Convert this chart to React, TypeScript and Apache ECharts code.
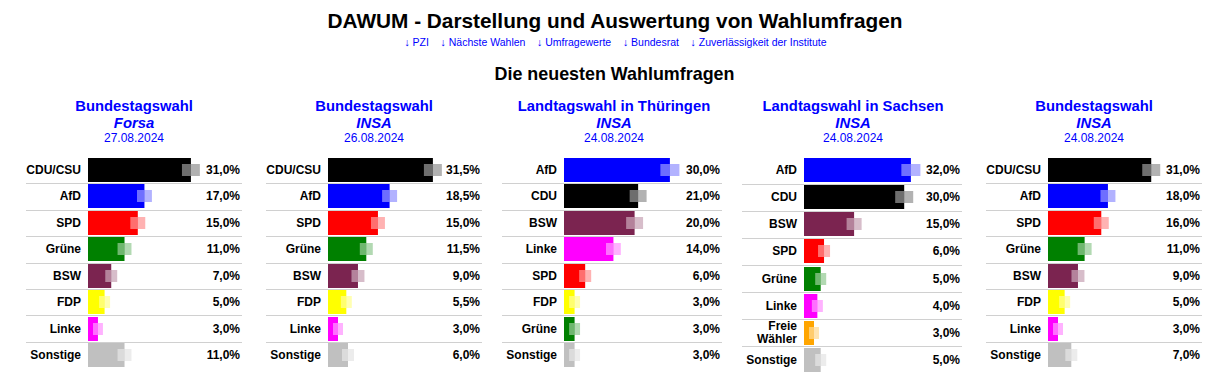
import React, { useEffect, useRef } from "react";
import * as echarts from "echarts";

// ---------- data ----------
const MAIN_TITLE = "DAWUM - Darstellung und Auswertung von Wahlumfragen";
const LINKS = ["PZI", "Nächste Wahlen", "Umfragewerte", "Bundesrat", "Zuverlässigkeit der Institute"];
const SUBTITLE = "Die neuesten Wahlumfragen";

const PANEL_ELECTIONS = ["Bundestagswahl", "Bundestagswahl", "Landtagswahl in Thüringen", "Landtagswahl in Sachsen", "Bundestagswahl"];
const PANEL_INSTITUTES = ["Forsa", "INSA", "INSA", "INSA", "INSA"];
const PANEL_DATES = ["27.08.2024", "26.08.2024", "24.08.2024", "24.08.2024", "24.08.2024"];

const P1_PARTIES = ["CDU/CSU", "AfD", "SPD", "Grüne", "BSW", "FDP", "Linke", "Sonstige"];
const P1_VALUES = [31.0, 17.0, 15.0, 11.0, 7.0, 5.0, 3.0, 11.0];
const P1_MARGINS = [2.7, 2.25, 2.25, 2.1, 1.8, 1.65, 1.5, 2.1];

const P2_PARTIES = ["CDU/CSU", "AfD", "SPD", "Grüne", "BSW", "FDP", "Linke", "Sonstige"];
const P2_VALUES = [31.5, 18.5, 15.0, 11.5, 9.0, 5.5, 3.0, 6.0];
const P2_MARGINS = [2.7, 2.25, 2.1, 1.95, 1.95, 1.65, 1.5, 1.8];

const P3_PARTIES = ["AfD", "CDU", "BSW", "Linke", "SPD", "FDP", "Grüne", "Sonstige"];
const P3_VALUES = [30.0, 21.0, 20.0, 14.0, 6.0, 3.0, 3.0, 3.0];
const P3_MARGINS = [2.7, 2.4, 2.4, 2.1, 1.7, 1.55, 1.55, 1.55];

const P4_PARTIES = ["AfD", "CDU", "BSW", "SPD", "Grüne", "Linke", "Freie Wähler", "Sonstige"];
const P4_VALUES = [32.0, 30.0, 15.0, 6.0, 5.0, 4.0, 3.0, 5.0];
const P4_MARGINS = [2.85, 2.7, 2.25, 1.8, 1.65, 1.65, 1.5, 1.65];

const P5_PARTIES = ["CDU/CSU", "AfD", "SPD", "Grüne", "BSW", "FDP", "Linke", "Sonstige"];
const P5_VALUES = [31.0, 18.0, 16.0, 11.0, 9.0, 5.0, 3.0, 7.0];
const P5_MARGINS = [2.7, 2.25, 2.25, 2.1, 1.95, 1.65, 1.5, 1.8];

// ---------- styles / layout ----------
const PARTY_COLORS: Record<string, string> = {
  "CDU/CSU": "#000000",
  CDU: "#000000",
  AfD: "#0000ff",
  SPD: "#ff0000",
  "Grüne": "#008000",
  BSW: "#7b2450",
  FDP: "#ffff00",
  Linke: "#ff00ff",
  "Freie Wähler": "#ffa500",
  Sonstige: "#c0c0c0",
};

const FONT = "'Liberation Sans', Arial, Helvetica, sans-serif";
const PANEL_CENTER = [134, 374, 614, 853, 1094];
const PANEL_BAR_START = [88, 328, 564, 804, 1048];
const PANEL_VALUE_RIGHT = [240, 480, 720, 960, 1200];
const PANEL_PX_PER_PCT = [3.32, 3.33, 3.53, 3.34, 3.33];
const GRID_TOP = 156.8;
const ROW_PITCH = 26.43;
const EXTRA_LINE_PX = 5;
const BAR_H = 24;
const BAND_H = 12;

const PANELS = [
  { parties: P1_PARTIES, values: P1_VALUES, margins: P1_MARGINS },
  { parties: P2_PARTIES, values: P2_VALUES, margins: P2_MARGINS },
  { parties: P3_PARTIES, values: P3_VALUES, margins: P3_MARGINS },
  { parties: P4_PARTIES, values: P4_VALUES, margins: P4_MARGINS },
  { parties: P5_PARTIES, values: P5_VALUES, margins: P5_MARGINS },
];

const labelOf = (name: string) => (name === "Freie Wähler" ? "Freie\nWähler" : name);
const fmt = (v: number) => v.toFixed(1).replace(".", ",") + "%";

function buildOption() {
  const grid: any[] = [];
  const xAxis: any[] = [];
  const yAxis: any[] = [];
  const series: any[] = [];
  const graphic: any[] = [];

  graphic.push({
    type: "text",
    x: 615,
    y: 20,
    style: { text: MAIN_TITLE, font: `bold 20.8px ${FONT}`, fill: "#000", align: "center", verticalAlign: "middle" },
  });
  graphic.push({
    type: "text",
    x: 615.5,
    y: 42,
    style: {
      text: LINKS.map((l) => "↓ " + l).join("\u00a0\u00a0\u00a0\u00a0"),
      font: `10.5px ${FONT}`,
      fill: "#0000ff",
      align: "center",
      verticalAlign: "middle",
    },
  });
  graphic.push({
    type: "text",
    x: 614.5,
    y: 74,
    style: { text: SUBTITLE, font: `bold 17.9px ${FONT}`, fill: "#000", align: "center", verticalAlign: "middle" },
  });

  PANELS.forEach((p, k) => {
    const cx = PANEL_CENTER[k];
    graphic.push({
      type: "text",
      x: cx,
      y: 105.5,
      style: { text: PANEL_ELECTIONS[k], font: `bold 14.8px ${FONT}`, fill: "#0000ff", align: "center", verticalAlign: "middle" },
    });
    graphic.push({
      type: "text",
      x: cx,
      y: 122.5,
      style: { text: PANEL_INSTITUTES[k], font: `italic bold 14.8px ${FONT}`, fill: "#0000ff", align: "center", verticalAlign: "middle" },
    });
    graphic.push({
      type: "text",
      x: cx,
      y: 137.5,
      style: { text: PANEL_DATES[k], font: `12px ${FONT}`, fill: "#0000ff", align: "center", verticalAlign: "middle" },
    });

    const extraLines = p.parties.filter((n) => labelOf(n).includes("\n")).length;
    const gridW = PANEL_VALUE_RIGHT[k] - PANEL_BAR_START[k];
    const n = p.parties.length;
    grid.push({
      left: PANEL_BAR_START[k],
      top: GRID_TOP,
      width: gridW,
      height: n * ROW_PITCH + extraLines * EXTRA_LINE_PX,
      containLabel: false,
    });
    xAxis.push({ type: "value", gridIndex: k, min: 0, max: gridW / PANEL_PX_PER_PCT[k], show: false });
    yAxis.push({
      type: "category",
      gridIndex: k,
      inverse: true,
      data: p.parties,
      axisLine: { show: false },
      axisTick: { show: false },
      splitLine: { show: false },
      axisLabel: {
        margin: 7,
        color: "#000",
        fontWeight: "bold",
        fontSize: 12,
        fontFamily: FONT,
        lineHeight: 13,
        interval: 0,
        formatter: (v: string) => labelOf(v),
      },
    });
    const colors = p.parties.map((nm) => PARTY_COLORS[nm] || "#999");
    series.push({
      type: "custom",
      xAxisIndex: k,
      yAxisIndex: k,
      encode: { x: 0, y: 1 },
      data: p.values.map((v, i) => [v, i, p.margins[i]]),
      renderItem: (params: any, api: any) => {
        const v = api.value(0);
        const i = api.value(1);
        const m = api.value(2);
        const s = api.coord([0, i]);
        const e = api.coord([v, i]);
        const lo = api.coord([v - m, i]);
        const hi = api.coord([v + m, i]);
        const band = api.size([0, 1])[1];
        const cs = params.coordSys;
        const cy = e[1];
        const top = Math.round(cy - BAR_H / 2);
        const btop = top + (BAR_H - BAND_H) / 2;
        const color = colors[params.dataIndex];
        const children: any[] = [];
        if (params.dataIndex < n - 1) {
          const yl = Math.round(cy + band / 2) + 0.5;
          children.push({
            type: "line",
            shape: { x1: cs.x - 62, y1: yl, x2: cs.x + cs.width + 2, y2: yl },
            style: { stroke: "#d0d0d0", lineWidth: 1 },
          });
        }
        children.push({
          type: "rect",
          shape: { x: s[0], y: top, width: e[0] - s[0], height: BAR_H },
          style: { fill: color },
        });
        children.push({
          type: "rect",
          shape: { x: lo[0], y: btop, width: e[0] - lo[0], height: BAND_H },
          style: { fill: "#ffffff", opacity: 0.43 },
        });
        children.push({
          type: "rect",
          shape: { x: e[0], y: btop, width: hi[0] - e[0], height: BAND_H },
          style: { fill: color, opacity: 0.3 },
        });
        children.push({
          type: "text",
          x: cs.x + cs.width,
          y: cy,
          style: {
            text: fmt(v),
            font: `bold 12px ${FONT}`,
            fill: "#000",
            align: "right",
            verticalAlign: "middle",
          },
        });
        return { type: "group", children };
      },
    });
  });

  return {
    animation: false,
    backgroundColor: "#ffffff",
    textStyle: { fontFamily: FONT },
    grid,
    xAxis,
    yAxis,
    series,
    graphic,
  };
}

export default function App() {
  const ref = useRef<HTMLDivElement>(null);
  useEffect(() => {
    if (!ref.current) return;
    const chart = echarts.init(ref.current, null, { renderer: "svg" });
    chart.setOption(buildOption() as any);
    return () => chart.dispose();
  }, []);
  return (
    <div
      ref={ref}
      style={{ position: "absolute", left: 0, top: 0, width: 1218, height: 376, background: "#fff" }}
    />
  );
}
